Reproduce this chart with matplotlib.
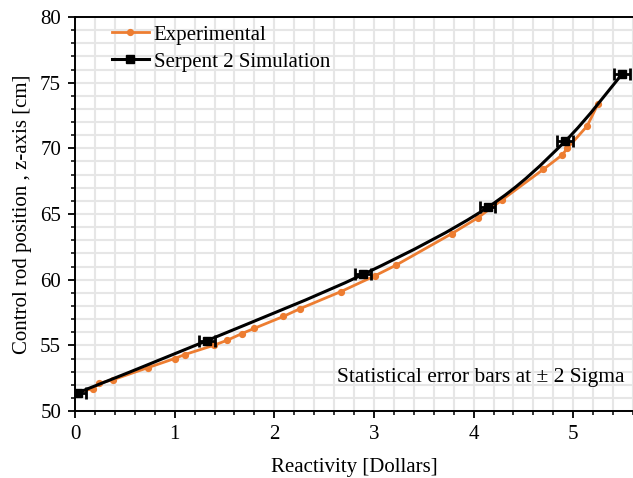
import matplotlib.pyplot as plt
import numpy as np
from matplotlib.path import Path
from matplotlib.patches import PathPatch
from matplotlib.ticker import MultipleLocator

plt.rcParams.update({
    "font.family": ["Liberation Serif", "DejaVu Serif"],
    "font.size": 15,
})

# Experimental reactivity curve
exp_rho = [0.0, 0.18, 0.24, 0.385, 0.73, 1.0, 1.1, 1.39, 1.53, 1.675, 1.80,
           2.09, 2.26, 2.67, 3.01, 3.22, 3.78, 4.04, 4.29, 4.70, 4.89, 4.94,
           5.14, 5.25]
exp_z = [51.4, 51.7, 52.1, 52.4, 53.3, 54.0, 54.3, 55.0, 55.4, 55.9, 56.3,
         57.2, 57.8, 59.1, 60.3, 61.1, 63.5, 64.7, 66.1, 68.4, 69.5, 70.0,
         71.7, 73.4]

# Serpent 2 simulation
sim_rho = [0.03, 1.32, 2.89, 4.14, 4.92, 5.49]
sim_z = [51.4, 55.35, 60.4, 65.5, 70.55, 75.65]
sim_err = [0.08, 0.08, 0.08, 0.08, 0.08, 0.08]

orange = "#ED7D31"


def smooth_path(x, y):
    """Excel-like smoothed line (Catmull-Rom as cubic Bezier)."""
    pts = np.column_stack([x, y])
    n = len(pts)
    verts = [pts[0]]
    codes = [Path.MOVETO]
    for i in range(n - 1):
        p0 = pts[max(i - 1, 0)]
        p1 = pts[i]
        p2 = pts[i + 1]
        p3 = pts[min(i + 2, n - 1)]
        c1 = p1 + (p2 - p0) / 6.0
        c2 = p2 - (p3 - p1) / 6.0
        verts += [c1, c2, p2]
        codes += [Path.CURVE4] * 3
    return Path(verts, codes)


fig = plt.figure(figsize=(6.33, 4.78), dpi=100)
ax = fig.add_axes([0.1185, 0.140, 0.8815, 0.8245])

ax.xaxis.set_major_locator(MultipleLocator(1))
ax.xaxis.set_minor_locator(MultipleLocator(0.2))
ax.yaxis.set_major_locator(MultipleLocator(5))
ax.yaxis.set_minor_locator(MultipleLocator(1))
ax.grid(True, which="both", color="#e6e6e6", linewidth=1.5, zorder=0)
ax.set_axisbelow(True)

ax.plot(exp_rho, exp_z, "-o", color=orange, linewidth=2.0, markersize=4.2,
        label="Experimental", zorder=3)

ax.add_patch(PathPatch(smooth_path(sim_rho, sim_z), facecolor="none",
                       edgecolor="black", linewidth=2.2, zorder=4))
ax.errorbar(sim_rho, sim_z, xerr=sim_err, fmt="s", color="black",
            markersize=6, capsize=4, elinewidth=2.0, capthick=2.0, zorder=5)
ax.plot([], [], "-s", color="black", linewidth=2.2, markersize=5.5,
        label="Serpent 2 Simulation")

ax.set_xlim(0, 5.6)
ax.set_ylim(50, 80)
ax.set_xlabel("Reactivity [Dollars]", fontsize=15, labelpad=10)
ax.set_ylabel("Control rod position , z-axis [cm]", fontsize=15, labelpad=6)

ax.tick_params(which="major", direction="out", length=5, width=1.3,
               labelsize=15, pad=5)
ax.tick_params(which="minor", direction="out", length=3, width=1.1)
ax.spines["right"].set_visible(False)
for s in ["left", "bottom", "top"]:
    ax.spines[s].set_linewidth(1.4)

ax.legend(loc="upper left", bbox_to_anchor=(0.033, 1.027), frameon=False,
          fontsize=15, handlelength=1.75, handletextpad=0.25,
          labelspacing=0.35)

ax.text(0.985, 0.085, "Statistical error bars at \u00b1 2 Sigma",
        transform=ax.transAxes, ha="right", va="center", fontsize=15.5)

fig.savefig("out.png", dpi=100)
